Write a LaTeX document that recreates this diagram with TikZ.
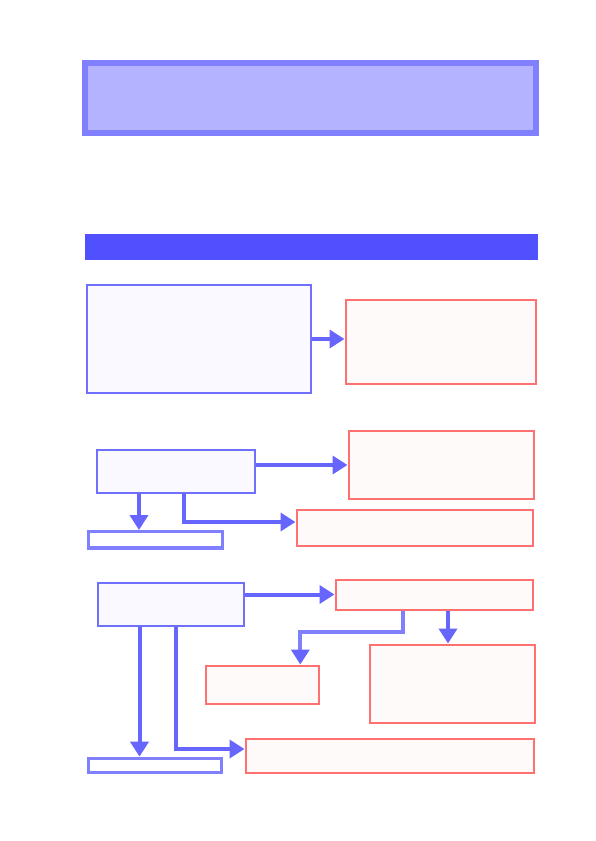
\documentclass[tikz,border=0pt]{standalone}
\usepackage{tikz}
\usetikzlibrary{arrows.meta, positioning, calc}
\usepackage{xcolor}
\definecolor{titleline}{RGB}{128,128,255}
\definecolor{titlefill}{RGB}{179,179,255}
\definecolor{barblue}{RGB}{80,80,255}
\definecolor{boxline}{RGB}{112,112,255}
\definecolor{boxfill}{RGB}{249,249,255}
\definecolor{redline}{RGB}{255,112,112}
\definecolor{redfill}{RGB}{255,250,250}
\definecolor{arrowblue}{RGB}{102,102,255}
\definecolor{arrowlight}{RGB}{128,128,255}

\begin{document}
\begin{tikzpicture}[x=1pt, y=-1pt,
  bluebox/.style={draw=boxline, fill=boxfill, line width=2pt, inner sep=0pt},
  redbox/.style={draw=redline, fill=redfill, line width=2pt, inner sep=0pt},
  slimbox/.style={draw=titleline, fill=white, line width=3.3pt, inner sep=0pt},
  flow/.style={draw=arrowblue, line width=4pt, -{Triangle[length=15pt, width=18pt]}},
  flowlight/.style={flow, draw=arrowlight, -{Triangle[length=15pt, width=18pt, color=arrowblue]}}]
  \useasboundingbox (0,0) rectangle (595,841);

  % heading
  \node[draw=titleline, fill=titlefill, line width=6pt, inner sep=0pt,
        minimum width=451pt, minimum height=70pt] (title) at (310.5,98) {};
  \node[fill=barblue, inner sep=0pt, minimum width=453pt, minimum height=26pt]
       (bar) at (311.5,247) {};

  % first row
  \node[bluebox, minimum width=224pt, minimum height=108pt] (a) at (199,339) {};
  \node[redbox, minimum width=190pt, minimum height=84pt] (r1) at (440.5,341.5) {};
  \draw[flow] (a.east) -- (a.east -| r1.west);

  % second row
  \node[bluebox, minimum width=158pt, minimum height=43pt] (b) at (176,471.5) {};
  \node[redbox, minimum width=185pt, minimum height=68pt] (r2) at (441,465) {};
  \node[redbox, minimum width=236pt, minimum height=36pt] (r3) at (414.5,528) {};
  \node[slimbox, minimum width=134pt, minimum height=16.3pt] (s1) at (155.3,539.8) {};
  \draw[flow] (b.east |- r2.west) -- (r2.west);
  \draw[flow] ([xshift=-37pt]b.south) -- ([xshift=-37pt]b.south |- s1.north);
  \draw[flow] ([xshift=8pt]b.south) |- ([yshift=6pt]r3.west);

  % third row
  \node[bluebox, minimum width=146pt, minimum height=43pt] (c) at (170.5,604) {};
  \node[redbox, minimum width=197pt, minimum height=30pt] (r4) at (434,594.5) {};
  \node[redbox, minimum width=113pt, minimum height=38pt] (r5) at (262,684.5) {};
  \node[redbox, minimum width=165pt, minimum height=78.5pt] (r6) at (452,683.75) {};
  \node[redbox, minimum width=288pt, minimum height=34.5pt] (r7) at (389.5,755.75) {};
  \node[slimbox, minimum width=133.4pt, minimum height=14pt] (s2) at (155,765.3) {};
  \draw[flow] (c.east |- r4.west) -- (r4.west);
  \draw[flowlight] ([xshift=-30.7pt]r4.south) -- ++(0,21) -| ([xshift=38.3pt]r5.north);
  \draw[flow] ([xshift=14pt]r4.south) -- ([xshift=14pt]r4.south |- r6.north);
  \draw[flow] ([xshift=-31pt]c.south) -- ([xshift=-31pt]c.south |- s2.north);
  \draw[flow] ([xshift=5.5pt]c.south) |- ([yshift=6.75pt]r7.west);
\end{tikzpicture}
\end{document}
